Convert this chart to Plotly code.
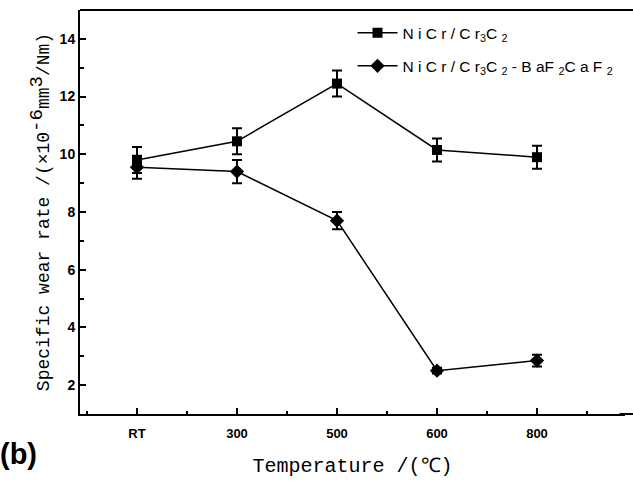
import plotly.graph_objects as go

categories = ["RT", "300", "500", "600", "800"]
nicr_cr3c2 = [9.8, 10.45, 12.45, 10.15, 9.9]
nicr_cr3c2_err = [0.45, 0.45, 0.45, 0.4, 0.4]
nicr_baf = [9.55, 9.4, 7.7, 2.5, 2.85]
nicr_baf_err = [0.4, 0.4, 0.3, 0.1, 0.2]

xpos = list(range(len(categories)))

fig = go.Figure()
fig.add_trace(go.Scatter(
    x=xpos, y=nicr_cr3c2, mode="lines+markers",
    name="N i C r / C r<sub>3</sub>C <sub>2</sub>",
    legendgroup="a",
    line=dict(color="black", width=1.5),
    marker=dict(symbol="square", size=10, color="black"),
    error_y=dict(type="data", array=nicr_cr3c2_err, color="black", thickness=2, width=5),
))
fig.add_trace(go.Scatter(
    x=xpos, y=nicr_baf, mode="lines+markers",
    name="N i C r / C r<sub>3</sub>C <sub>2</sub> - B aF <sub>2</sub>C a F <sub>2</sub>",
    legendgroup="b",
    line=dict(color="black", width=1.5),
    marker=dict(symbol="diamond", size=11, color="black"),
    error_y=dict(type="data", array=nicr_baf_err, color="black", thickness=2, width=5),
))

fig.update_layout(
    width=633, height=485,
    margin=dict(l=80, r=8, t=10, b=71),
    paper_bgcolor="white", plot_bgcolor="white",
    font=dict(family="Liberation Sans", color="black"),
    showlegend=True,
    legend=dict(x=0.5, y=0.985, xanchor="left", yanchor="top",
                bgcolor="rgba(0,0,0,0)", font=dict(size=15.5, family="Liberation Sans"),
                tracegroupgap=10, itemwidth=40),
    annotations=[dict(text="<b>(b)</b>", xref="paper", yref="paper",
                      x=-0.15, y=-0.1, xanchor="left", yanchor="middle",
                      showarrow=False, font=dict(size=29, family="Liberation Sans"))],
    shapes=[dict(type="line", xref="paper", yref="paper", x0=0, x1=1.03, y0=1, y1=1,
                 line=dict(color="black", width=2)),
            dict(type="line", xref="paper", yref="paper", x0=0.99, x1=1.03, y0=0, y1=0,
                 line=dict(color="black", width=2))],
)

fig.update_xaxes(
    range=[-0.57, 4.88], tickvals=xpos, ticktext=categories,
    showline=True, linecolor="black", linewidth=2, mirror=False,
    ticks="inside", ticklen=6, tickwidth=1.5, tickcolor="black",
    minor=dict(dtick=0.5, tick0=0, ticks="inside", ticklen=3, tickcolor="black", tickwidth=1.5),
    showgrid=False, zeroline=False,
    tickfont=dict(size=13, family="Liberation Sans", weight="bold"),
    ticklabelstandoff=6,
    title=dict(text="Temperature /(℃)", font=dict(size=20, family="Liberation Mono"), standoff=18),
)
fig.update_yaxes(
    range=[1, 15], tickvals=[2, 4, 6, 8, 10, 12, 14],
    showline=True, linecolor="black", linewidth=2, mirror=False,
    ticks="inside", ticklen=6, tickwidth=1.5, tickcolor="black",
    minor=dict(dtick=1, tick0=1, ticks="inside", ticklen=4, tickcolor="black", tickwidth=1.5),
    showgrid=False, zeroline=False,
    tickfont=dict(size=14, family="Liberation Sans", weight="bold"),
    title=dict(text="Specific wear rate /(×10<sup><span style='font-size:19px'>-6</span></sup>mm<sup><span style='font-size:19px'>3</span></sup>/Nm)",
               font=dict(size=18, family="Liberation Mono"), standoff=5),
)

fig.write_html("out.html")
